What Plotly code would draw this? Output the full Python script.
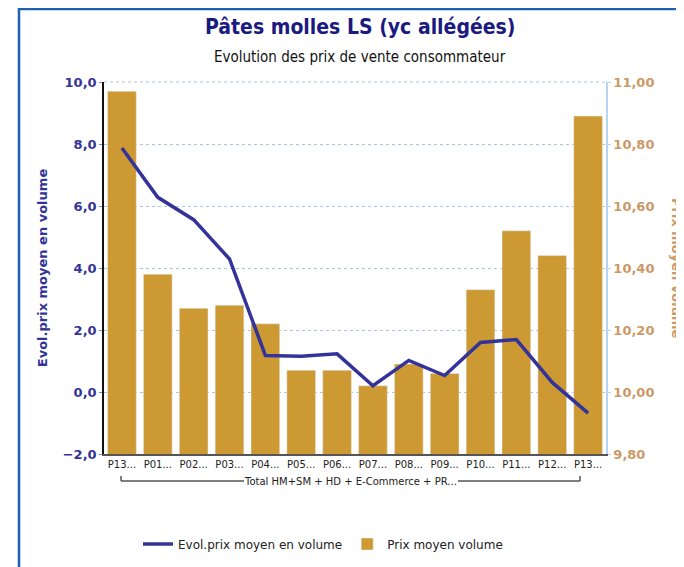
import plotly.graph_objects as go

periods = ["P13...", "P01...", "P02...", "P03...", "P04...", "P05...", "P06...",
           "P07...", "P08...", "P09...", "P10...", "P11...", "P12...", "P13..."]
group_label = "Total HM+SM + HD + E-Commerce + PR..."
prix_moyen = [10.97, 10.38, 10.27, 10.28, 10.22, 10.07, 10.07,
              10.02, 10.09, 10.06, 10.33, 10.52, 10.44, 10.89]
evol_prix = [7.87, 6.28, 5.56, 4.29, 1.18, 1.15, 1.23,
             0.20, 1.02, 0.53, 1.60, 1.69, 0.31, -0.68]

W, H = 684, 567
OFF = 8  # page body margin offset
# plot area in screen pixels: x 104..606, y 82..454
L, T = 104 - OFF, 82 - OFF
R, B = W - (606 - OFF), H - (454 - OFF)
pw, ph = W - L - R, H - T - B

def px(x):
    return (x - OFF - L) / pw

def py(y):
    return (H - B - (y - OFF)) / ph

xs = list(range(len(periods)))
navy = "#333399"
tan = "#CC9966"
font = "DejaVu Sans"

fig = go.Figure()
# bars on primary axis (right side), line on overlaying axis (left side) so it draws on top
fig.add_trace(go.Bar(x=xs, y=prix_moyen, name="Prix moyen volume", marker_color="#CC9933",
                     yaxis="y", legendrank=2))
fig.add_trace(go.Scatter(x=xs, y=evol_prix, name="Evol.prix moyen en volume", mode="lines",
                         line=dict(color="#333399", width=3.5), yaxis="y2", legendrank=1))

fig.update_layout(
    width=W, height=H,
    margin=dict(l=L, r=R, t=T, b=B),
    paper_bgcolor="white", plot_bgcolor="white",
    separators=", ",
    font=dict(family=font, color="#222222"),
    bargap=0.2,
    xaxis=dict(range=[-0.5, 13.5], tickvals=xs, ticktext=periods, showgrid=False,
               tickfont=dict(size=10, color="#222222", family=font), ticks="",
               showline=True, linecolor="#555555", linewidth=1.5, zeroline=False,
               automargin=False),
    yaxis2=dict(range=[-2, 10], dtick=2, tickformat=".1f", side="left", overlaying="y",
                tickfont=dict(size=13, color=navy, family=font, weight="bold"),
                showgrid=True, gridcolor="#A9C4E4", griddash="dot", gridwidth=1,
                showline=True, linecolor="#111111", linewidth=1.5, ticks="outside",
                ticklen=3, tickcolor="#888888", zeroline=False, automargin=False,
                title=dict(text="Evol.prix moyen en volume", standoff=12,
                           font=dict(size=13, color=navy, family=font, weight="bold"))),
    yaxis=dict(range=[9.8, 11.0], dtick=0.2, tickformat=".2f", side="right",
               tickfont=dict(size=13, color=tan, family=font, weight="bold"),
               showgrid=False, showline=True, linecolor="#B8D4F0", linewidth=1.5,
               ticks="outside", ticklen=3, tickcolor="#B8D4F0", zeroline=False,
               automargin=False),
    showlegend=True,
    legend=dict(orientation="h", x=px(323), y=py(544), xanchor="center", yanchor="middle",
                font=dict(size=12, color="#222222", family=font), itemwidth=30,
                traceorder="normal"),
)

# right axis title (reads top to bottom)
fig.add_annotation(text="Prix moyen volume", xref="paper", yref="paper", x=px(677), y=py(268),
                   textangle=90, showarrow=False, xanchor="center", yanchor="middle",
                   font=dict(size=13, color=tan, family=font, weight="bold"))
# titles
fig.add_annotation(text="<b>Pâtes molles LS (yc allégées)</b>", xref="paper", yref="paper",
                   x=px(360), y=py(27), showarrow=False, xanchor="center", yanchor="middle",
                   font=dict(size=21, color="#1A1A80", family="DejaVu Sans Condensed"))
fig.add_annotation(text="Evolution des prix de vente consommateur", xref="paper", yref="paper",
                   x=px(360), y=py(57), showarrow=False, xanchor="center", yanchor="middle",
                   font=dict(size=15, color="#111111", family="DejaVu Sans Condensed"))
# group label
fig.add_annotation(text=group_label, xref="paper", yref="paper", x=px(350), y=py(481),
                   showarrow=False, xanchor="center", yanchor="middle",
                   font=dict(size=10, color="#222222", family=font))

shapes = []
lc = dict(color="#555555", width=1.5)
shapes.append(dict(type="line", xref="paper", yref="paper", x0=px(121), x1=px(244), y0=py(481), y1=py(481), line=lc))
shapes.append(dict(type="line", xref="paper", yref="paper", x0=px(458), x1=px(580), y0=py(481), y1=py(481), line=lc))
shapes.append(dict(type="line", xref="paper", yref="paper", x0=px(121), x1=px(121), y0=py(481), y1=py(476), line=lc))
shapes.append(dict(type="line", xref="paper", yref="paper", x0=px(580), x1=px(580), y0=py(481), y1=py(476), line=lc))
# top dotted border of plot
shapes.append(dict(type="line", xref="paper", yref="paper", x0=0, x1=1, y0=1, y1=1,
                   line=dict(color="#A9C4E4", width=1, dash="dot")))
# outer frame
shapes.append(dict(type="rect", xref="paper", yref="paper", x0=px(19), x1=px(720), y0=py(620), y1=py(9),
                   line=dict(color="#2060B0", width=2.5), fillcolor="rgba(0,0,0,0)", layer="below"))
fig.update_layout(shapes=shapes)

fig.write_html("out.html")
